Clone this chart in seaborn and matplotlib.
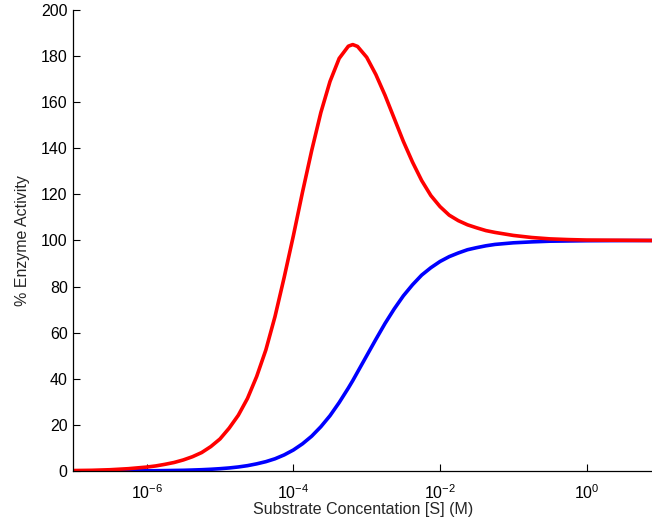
import numpy as np
import pandas as pd
import matplotlib
matplotlib.use("Agg")
import matplotlib.pyplot as plt
import seaborn as sns
from matplotlib.ticker import LogFormatterSciNotation, NullLocator, FixedLocator

# log10 of substrate concentration (M) at which values were read
log_s = [-7.0, -6.75, -6.5, -6.25, -6.0, -5.875, -5.75, -5.625, -5.5, -5.375, -5.25, -5.125,
         -5.0, -4.875, -4.75, -4.625, -4.5, -4.375, -4.25, -4.125, -4.0, -3.875,
         -3.75, -3.625, -3.5, -3.375, -3.25, -3.19, -3.125, -3.0, -2.875, -2.75,
         -2.625, -2.5, -2.375, -2.25, -2.125, -2.0, -1.875, -1.75, -1.625, -1.5,
         -1.375, -1.25, -1.0, -0.75, -0.5, -0.25, 0.0, 0.5, 0.9]

# red curve: % enzyme activity
red_activity = [0.2, 0.3, 0.55, 1.0, 1.7, 2.2, 2.9, 3.7, 4.8, 6.2, 8.0, 10.6,
                13.9, 18.6, 24.2, 31.5, 41.0, 52.5, 67.0, 84.0, 102.0, 121.0,
                139.0, 155.5, 169.0, 179.0, 184.3, 185.0, 184.2, 179.5, 172.0, 163.0,
                153.0, 143.0, 134.0, 126.0, 119.5, 114.7, 111.0, 108.6, 106.8, 105.5,
                104.3, 103.5, 102.2, 101.3, 100.7, 100.4, 100.2, 100.1, 100.0]

# blue curve: % enzyme activity
blue_activity = [0.0, 0.02, 0.03, 0.06, 0.1, 0.13, 0.18, 0.24, 0.3, 0.42, 0.56, 0.75,
                 1.0, 1.32, 1.75, 2.32, 3.1, 4.05, 5.3, 6.98, 9.1, 11.8,
                 15.1, 19.2, 24.0, 29.7, 36.0, 39.2, 42.9, 50.0, 57.1, 64.0,
                 70.3, 76.0, 80.8, 85.0, 88.2, 90.9, 93.0, 94.6, 96.0, 96.9,
                 97.7, 98.3, 99.0, 99.4, 99.7, 99.8, 99.9, 99.97, 100.0]

x_ticks = [1e-6, 1e-4, 1e-2, 1e0]
y_ticks = list(range(0, 201, 20))
x_label = "Substrate Concentation [S] (M)"
y_label = "% Enzyme Activity"

sns.set_style("ticks")
plt.rcParams["font.family"] = ["Liberation Sans", "DejaVu Sans"]
plt.rcParams["mathtext.fontset"] = "custom"
plt.rcParams["mathtext.rm"] = "Liberation Sans"
plt.rcParams["mathtext.it"] = "Liberation Sans:italic"

conc = [10.0 ** v for v in log_s]
df = pd.DataFrame({
    "S": conc * 2,
    "activity": red_activity + blue_activity,
    "series": ["red"] * len(conc) + ["blue"] * len(conc),
})

fig = plt.figure(figsize=(6.52, 5.32), dpi=100)
ax = fig.add_axes([73.3 / 652, 61 / 532, 1 - 73.3 / 652, (471 - 10) / 532])

sns.lineplot(data=df, x="S", y="activity", hue="series",
             palette={"red": "#ff0000", "blue": "#0000ff"},
             hue_order=["blue", "red"], linewidth=2.6, legend=False, ax=ax,
             sort=False, estimator=None)

ax.set_xscale("log")
ax.set_xlim(1e-7, 10 ** 0.89)
ax.set_ylim(0, 200)
ax.set_yticks(y_ticks)
ax.xaxis.set_major_locator(FixedLocator(x_ticks))
ax.xaxis.set_major_formatter(LogFormatterSciNotation(base=10))
ax.xaxis.set_minor_locator(NullLocator())

ax.tick_params(direction="in", length=5, width=0.8, labelsize=11.5, colors="black")
ax.tick_params(axis="x", pad=9)
ax.tick_params(axis="y", pad=4)

for side in ["top", "right"]:
    ax.spines[side].set_visible(False)
for side in ["left", "bottom"]:
    ax.spines[side].set_linewidth(0.9)
    ax.spines[side].set_color("black")

ax.set_xlabel(x_label, fontsize=11.5, labelpad=0)
ax.set_ylabel(y_label, fontsize=11.5, labelpad=8)

fig.savefig("out.png", dpi=100)
